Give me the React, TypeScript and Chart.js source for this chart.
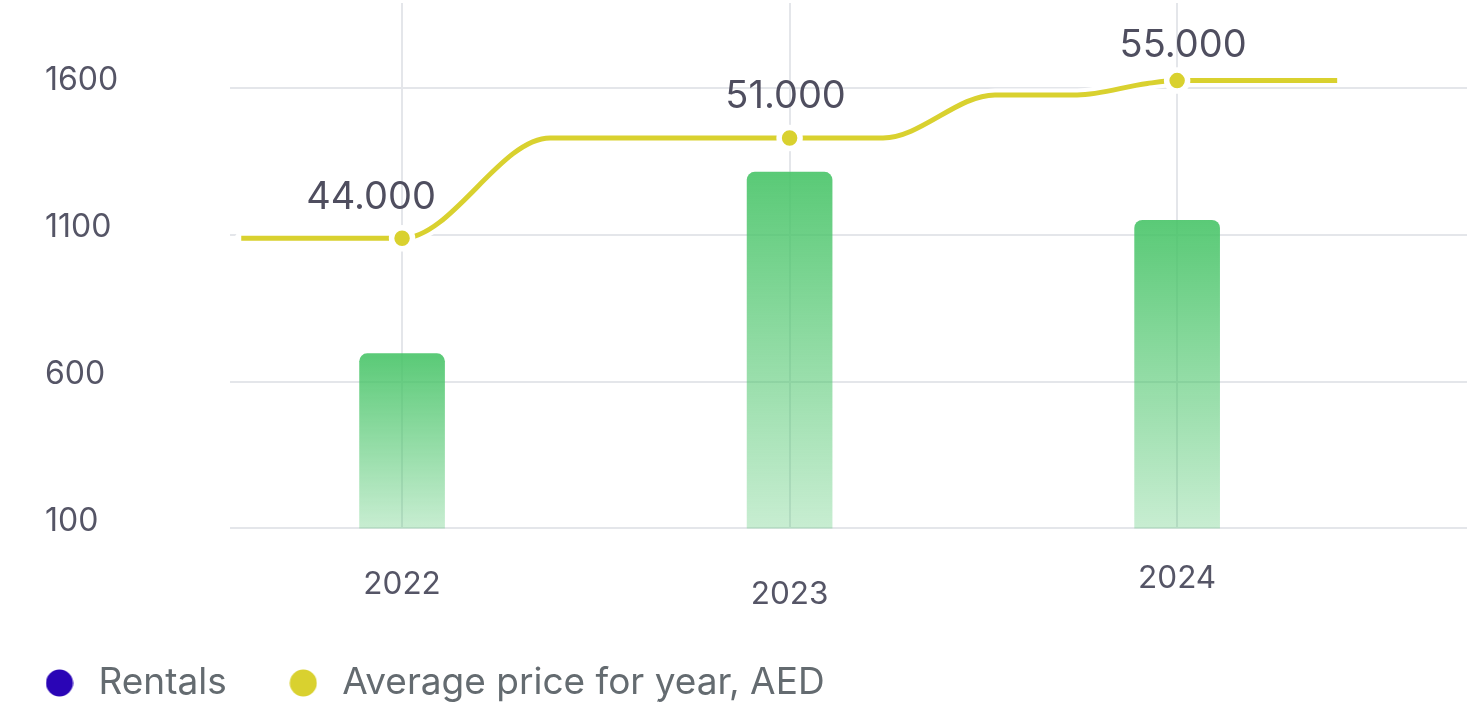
import React, { useEffect, useRef } from 'react';
import { Chart, registerables } from 'chart.js';

Chart.register(...registerables);

// ---- data ----
const years = [2022, 2023, 2024];
const yearLabels = ['2022', '2023', '2024'];
const rentals = [695, 1313, 1149];
const avgPrice = [44000, 51000, 55000];
// knots of the drawn price curve (start, plateau ends, end) in year / AED units
const priceCurveX = [2021.585, 2022.382, 2023.241, 2023.53, 2023.742, 2023.923, 2024.413];
const priceCurveY = [44000, 51000, 51000, 54000, 54000, 54800, 55000];
const rentalTicks = [100, 600, 1100, 1600];
const legendLabels = ['Rentals', 'Average price for year, AED'];

// ---- styling ----
const FONT = 'Inter, "Noto Sans", sans-serif';
const YELLOW = '#d9d12f';
const BLUE = '#2a05b6';
const GRID = '#e4e6ea';
const TICK = '#555566';
const VALUE_COLOR = '#4f4e5f';
const LEGEND_TEXT = '#646b70';
const xLabelLineHeights = ['36.6px', '56.6px', '24.6px'];
const valueLabelDx = [-31, -4, 6];
const valueLabelDy = [-29, -30, -23.5];

const fmt = (v: number) => String(v).replace(/\B(?=(\d{3})+(?!\d))/g, '.');

function dot(color: string) {
  const c = document.createElement('canvas');
  c.width = 28;
  c.height = 28;
  const g = c.getContext('2d')!;
  g.fillStyle = color;
  g.beginPath();
  g.arc(14, 14, 13.5, 0, Math.PI * 2);
  g.fill();
  return c;
}

const lineOutline = {
  id: 'lineOutline',
  beforeDatasetDraw(chart: any, args: any) {
    const meta = args.meta;
    if (meta.type !== 'line') return;
    const line = meta.dataset;
    if (!line) return;
    const orig = line.options;
    line.options = Object.assign({}, orig, {
      borderColor: '#ffffff',
      borderWidth: 13,
      borderCapStyle: 'round',
      borderJoinStyle: 'round',
    });
    line.draw(chart.ctx, chart.chartArea);
    line.options = orig;
  },
};

const valueLabels = {
  id: 'valueLabels',
  afterDatasetsDraw(chart: any) {
    const { ctx } = chart;
    const xs = chart.scales.x;
    const ys = chart.scales.y1;
    ctx.save();
    ctx.font = `38px ${FONT}`;
    ctx.fillStyle = VALUE_COLOR;
    ctx.textAlign = 'center';
    ctx.textBaseline = 'alphabetic';
    years.forEach((yr, i) => {
      const x = xs.getPixelForValue(yr) + valueLabelDx[i];
      const y = ys.getPixelForValue(avgPrice[i]) + valueLabelDy[i];
      ctx.fillText(fmt(avgPrice[i]), x, y);
    });
    ctx.restore();
  },
};

export default function App() {
  const ref = useRef<HTMLCanvasElement>(null);

  useEffect(() => {
    document.body.style.margin = '0';
    const canvas = ref.current!;

    const lineData = [
      ...years.map((x, i) => ({ x, y: avgPrice[i], mark: true })),
      ...priceCurveX.map((x, i) => ({ x, y: priceCurveY[i], mark: false })),
    ].sort((a, b) => a.x - b.x);

    const barData = years.map((x, i) => ({ x, y: rentals[i] }));

    const barGradient = (c: any) => {
      const chart = c.chart;
      const area = chart.chartArea;
      if (!area || c.type !== 'data' || !c.parsed) return 'rgba(72,196,104,0.9)';
      const top = chart.scales.y.getPixelForValue(c.parsed.y);
      const g = chart.ctx.createLinearGradient(0, top, 0, area.bottom);
      g.addColorStop(0, 'rgba(72,196,104,0.9)');
      g.addColorStop(1, 'rgba(72,196,104,0.3)');
      return g;
    };

    const chart = new Chart(canvas, {
      type: 'bar',
      data: {
        datasets: [
          {
            type: 'line',
            label: legendLabels[1],
            data: lineData as any,
            xAxisID: 'x',
            yAxisID: 'y1',
            order: 0,
            borderColor: YELLOW,
            borderWidth: 5,
            cubicInterpolationMode: 'monotone',
            fill: false,
            pointRadius: (c: any) => (c.raw && c.raw.mark ? 10.5 : 0),
            pointHoverRadius: (c: any) => (c.raw && c.raw.mark ? 10.5 : 0),
            pointBackgroundColor: YELLOW,
            pointBorderColor: '#ffffff',
            pointBorderWidth: 5.5,
          } as any,
          {
            type: 'bar',
            label: legendLabels[0],
            data: barData as any,
            xAxisID: 'x',
            yAxisID: 'y',
            order: 1,
            barThickness: 85,
            borderRadius: 8,
            borderSkipped: 'start',
            backgroundColor: barGradient,
          } as any,
        ],
      },
      options: {
        responsive: false,
        animation: false,
        devicePixelRatio: 1,
        layout: { padding: { left: -17, right: 14, top: 3, bottom: -3.5 } },
        plugins: {
          tooltip: { enabled: false },
          legend: {
            position: 'bottom',
            align: 'start',
            labels: {
              usePointStyle: true,
              pointStyleWidth: 41,
              padding: 56,
              color: LEGEND_TEXT,
              font: { family: FONT, size: 37 },
              generateLabels: () => [
                {
                  text: legendLabels[0],
                  fillStyle: BLUE,
                  strokeStyle: BLUE,
                  lineWidth: 0,
                  pointStyle: dot(BLUE),
                  fontColor: LEGEND_TEXT,
                  hidden: false,
                  datasetIndex: 1,
                },
                {
                  text: legendLabels[1],
                  fillStyle: YELLOW,
                  strokeStyle: YELLOW,
                  lineWidth: 0,
                  pointStyle: dot(YELLOW),
                  fontColor: LEGEND_TEXT,
                  hidden: false,
                  datasetIndex: 0,
                },
              ] as any,
            },
          },
        },
        scales: {
          x: {
            type: 'linear',
            min: 2021.556,
            max: 2024.748,
            bounds: 'data',
            offset: false,
            afterBuildTicks: (s: any) => {
              s.ticks = years.map((value) => ({ value }));
            },
            afterFit: (s: any) => {
              s.height = 80.1;
              s.paddingLeft = 0;
              s.paddingRight = 0;
            },
            grid: { color: GRID, lineWidth: 2, drawTicks: false, offset: false },
            border: { display: false },
            ticks: {
              autoSkip: false,
              maxRotation: 0,
              padding: 38,
              color: TICK,
              font: (c: any) => ({ family: FONT, size: 31.5, lineHeight: xLabelLineHeights[c.index] || '36px' }),
              callback: (v: any) => {
                const i = years.indexOf(Number(v));
                return i >= 0 ? yearLabels[i] : '';
              },
            },
          } as any,
          y: {
            type: 'linear',
            position: 'left',
            weight: 0,
            min: 100,
            max: 1889,
            bounds: 'data',
            afterBuildTicks: (s: any) => {
              s.ticks = rentalTicks.map((value) => ({ value }));
            },
            afterFit: (s: any) => {
              s.width = 185;
              s.paddingTop = 0;
              s.paddingBottom = 0;
            },
            grid: { color: GRID, lineWidth: 2, drawTicks: false },
            border: { display: false },
            ticks: {
              crossAlign: 'far',
              padding: 0,
              labelOffset: -7,
              color: TICK,
              font: { family: FONT, size: 32 },
              callback: (v: any) => String(v),
            },
          } as any,
          // price axis: hidden, kept on the left as the outermost box
          y1: {
            type: 'linear',
            position: 'left',
            weight: 1,
            min: 23767,
            max: 60413,
            bounds: 'data',
            grid: { display: false, drawTicks: false },
            border: { display: false },
            ticks: { display: false },
            afterFit: (s: any) => {
              s.width = 62;
              s.paddingTop = 0;
              s.paddingBottom = 0;
            },
          } as any,
        },
      },
      plugins: [lineOutline, valueLabels],
    } as any);

    return () => chart.destroy();
  }, []);

  return (
    <canvas
      ref={ref}
      width={1481}
      height={708}
      style={{ display: 'block', width: 1481, height: 708 }}
    />
  );
}
